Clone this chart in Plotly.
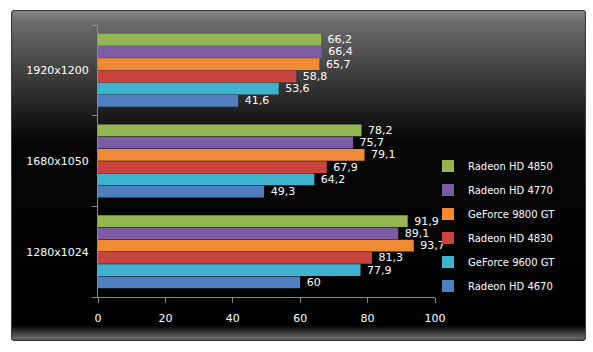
import base64
import plotly.graph_objects as go

categories = ["1280x1024", "1680x1050", "1920x1200"]
series_names = ["Radeon HD 4670", "GeForce 9600 GT", "Radeon HD 4830",
                "GeForce 9800 GT", "Radeon HD 4770", "Radeon HD 4850"]
values = {
    "Radeon HD 4670": [60, 49.3, 41.6],
    "GeForce 9600 GT": [77.9, 64.2, 53.6],
    "Radeon HD 4830": [81.3, 67.9, 58.8],
    "GeForce 9800 GT": [93.7, 79.1, 65.7],
    "Radeon HD 4770": [89.1, 75.7, 66.4],
    "Radeon HD 4850": [91.9, 78.2, 66.2],
}
colors = {
    "Radeon HD 4670": "#4f7fbf",
    "GeForce 9600 GT": "#3fb2cf",
    "Radeon HD 4830": "#c9433f",
    "GeForce 9800 GT": "#f08a35",
    "Radeon HD 4770": "#7c5ca3",
    "Radeon HD 4850": "#94b653",
}
x_ticks = [0, 20, 40, 60, 80, 100]

W, H = 593, 352
L, R, T, B = 98, 158, 25, 55
pw, ph = W - L - R, H - T - B

def px(x):
    return (x - L) / pw

def py(y):
    return (H - B - y) / ph

fx0, fx1, fy0, fy1 = 11, 586, 10, 341
fw, fh = fx1 - fx0, fy1 - fy0
svg = f'''<svg xmlns="http://www.w3.org/2000/svg" width="{fw}" height="{fh}" viewBox="0 0 {fw} {fh}" preserveAspectRatio="none">
<defs><linearGradient id="g" x1="0" y1="0" x2="0" y2="1">
<stop offset="0" stop-color="#8a8a8a"/>
<stop offset="0.03" stop-color="#6e6e6e"/>
<stop offset="0.2" stop-color="#3c3c3c"/>
<stop offset="0.4" stop-color="#050505"/>
<stop offset="0.955" stop-color="#000000"/>
<stop offset="0.975" stop-color="#3a3a3a"/>
<stop offset="0.995" stop-color="#6a6a6a"/>
<stop offset="1" stop-color="#222"/>
</linearGradient></defs>
<rect x="0.5" y="0.5" width="{fw-1}" height="{fh-1}" rx="3" ry="3" fill="url(#g)" stroke="#3a3a3a" stroke-width="1.2"/>
</svg>'''
src = "data:image/svg+xml;base64," + base64.b64encode(svg.encode()).decode()

fig = go.Figure()
n = len(series_names)
for i, name in enumerate(series_names):
    vals = values[name]
    fig.add_trace(go.Bar(
        y=categories, x=vals, orientation="h", name=name,
        legendgroup=name, legendrank=n - i,
        marker=dict(color=colors[name], line=dict(width=0)),
        text=[" " + f"{v:g}".replace(".", ",") for v in vals],
        textposition="outside", constraintext="none", cliponaxis=False,
        textfont=dict(color="white", size=11, family="DejaVu Sans"),
    ))

fig.update_layout(
    width=W, height=H,
    margin=dict(l=L, r=R, t=T, b=B),
    paper_bgcolor="white", plot_bgcolor="rgba(0,0,0,0)",
    barmode="group", bargap=0.19, bargroupgap=0.04,
    font=dict(family="DejaVu Sans", size=11, color="white"),
    showlegend=True,
    legend=dict(x=px(428), xanchor="left", y=py(226), yanchor="middle",
                traceorder="grouped", tracegroupgap=5,
                font=dict(size=10, color="white", family="DejaVu Sans"),
                bgcolor="rgba(0,0,0,0)", itemwidth=30),
    images=[dict(source=src, xref="paper", yref="paper",
                 x=px(fx0), y=py(fy0), sizex=fw / pw, sizey=fh / ph,
                 xanchor="left", yanchor="top", sizing="stretch", layer="below")],
    xaxis=dict(range=[0, 100], tickvals=x_ticks, showgrid=False, zeroline=False,
               showline=True, linecolor="#8c8c8c", linewidth=1,
               ticks="outside", ticklen=5, tickcolor="#8c8c8c",
               ticklabelstandoff=6,
               tickfont=dict(color="white", size=11)),
    yaxis=dict(categoryorder="array", categoryarray=categories, showgrid=False,
               showline=True, linecolor="#8c8c8c", linewidth=1,
               ticks="outside", ticklen=5, tickcolor="#8c8c8c", tickson="boundaries",
               ticklabelstandoff=6,
               tickfont=dict(color="white", size=11)),
)

fig.write_html("out.html")
